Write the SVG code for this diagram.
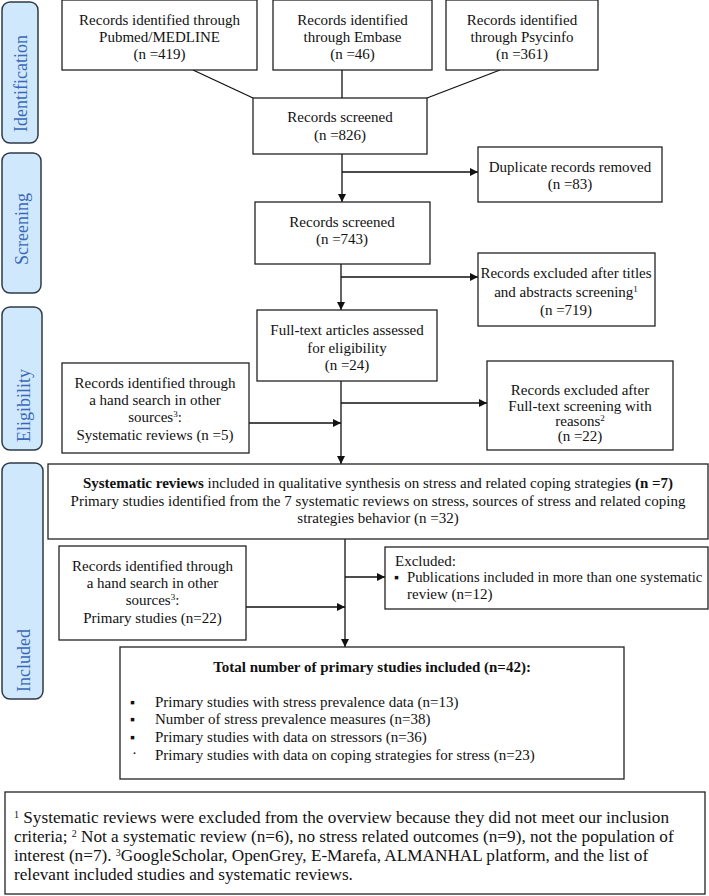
<svg xmlns="http://www.w3.org/2000/svg" width="709" height="896" viewBox="0 0 709 896">
<defs>
<style>
.box{fill:#fff;stroke:#222;stroke-width:1.3}
.side{fill:#cfe8fb;stroke:#2e3a48;stroke-width:1.5}
.t{font-family:"Liberation Serif","Times New Roman",serif;font-size:15px;fill:#111}
.f{font-size:17.2px}
.c{text-anchor:middle}
.st{font-family:"Liberation Serif","Times New Roman",serif;font-size:18px;fill:#3a68b8}
.ln{stroke:#111;stroke-width:1.3;fill:none}
.b{font-weight:bold}
</style>
<marker id="ah" viewBox="0 0 10 10" refX="10" refY="5" markerWidth="8" markerHeight="8" markerUnits="userSpaceOnUse" orient="auto">
<path d="M0,0 L10,5 L0,10 z" fill="#111"/>
</marker>
</defs>
<rect width="709" height="896" fill="#fff"/>

<g id="side-identification"><rect class="side" x="2" y="2" width="36" height="141" rx="8"/><text class="st" transform="translate(27,132) rotate(-90)">Identification</text></g>
<g id="side-screening"><rect class="side" x="2" y="153" width="39" height="140" rx="8"/><text class="st" transform="translate(28,265) rotate(-90)">Screening</text></g>
<g id="side-eligibility"><rect class="side" x="2" y="307" width="40" height="143" rx="8"/><text class="st" transform="translate(30,442) rotate(-90)">Eligibility</text></g>
<g id="side-included"><rect class="side" x="2" y="463" width="41" height="236" rx="8"/><text class="st" transform="translate(30,692) rotate(-90)">Included</text></g>

<g id="connectors">
<line class="ln" x1="193" y1="70" x2="253" y2="98"/>
<line class="ln" x1="342" y1="70" x2="342" y2="98"/>
<line class="ln" x1="500" y1="70" x2="427" y2="98"/>
<line class="ln" x1="342" y1="154" x2="342" y2="202" marker-end="url(#ah)"/>
<line class="ln" x1="342" y1="172" x2="478" y2="172" marker-end="url(#ah)"/>
<line class="ln" x1="341" y1="264" x2="341" y2="310" marker-end="url(#ah)"/>
<line class="ln" x1="341" y1="277" x2="478" y2="277" marker-end="url(#ah)"/>
<line class="ln" x1="341" y1="381" x2="341" y2="464" marker-end="url(#ah)"/>
<line class="ln" x1="341" y1="403" x2="487" y2="403" marker-end="url(#ah)"/>
<line class="ln" x1="249" y1="423" x2="341" y2="423" marker-end="url(#ah)"/>
<line class="ln" x1="345" y1="539" x2="345" y2="647" marker-end="url(#ah)"/>
<line class="ln" x1="345" y1="577" x2="385" y2="577" marker-end="url(#ah)"/>
<line class="ln" x1="246" y1="607" x2="345" y2="607" marker-end="url(#ah)"/>
</g>

<g id="pubmed"><rect class="box" x="62" y="0" width="195" height="70"/>
<text class="t c" x="159.5" y="25">Records identified through</text>
<text class="t c" x="159.5" y="42">Pubmed/MEDLINE</text>
<text class="t c" x="159.5" y="59">(n =419)</text></g>

<g id="embase"><rect class="box" x="273" y="0" width="159" height="70"/>
<text class="t c" x="352.5" y="25">Records identified</text>
<text class="t c" x="352.5" y="42">through Embase</text>
<text class="t c" x="352.5" y="59">(n =46)</text></g>

<g id="psycinfo"><rect class="box" x="446" y="0" width="152" height="70"/>
<text class="t c" x="522" y="25">Records identified</text>
<text class="t c" x="522" y="42">through Psycinfo</text>
<text class="t c" x="522" y="59">(n =361)</text></g>

<g id="screened826"><rect class="box" x="253" y="98" width="174" height="56"/>
<text class="t c" x="340" y="122">Records screened</text>
<text class="t c" x="340" y="140">(n =826)</text></g>

<g id="duplicates"><rect class="box" x="478" y="147" width="184" height="55"/>
<text class="t c" x="570" y="172">Duplicate records removed</text>
<text class="t c" x="570" y="189">(n =83)</text></g>

<g id="screened743"><rect class="box" x="255" y="202" width="175" height="62"/>
<text class="t c" x="342" y="227">Records screened</text>
<text class="t c" x="342" y="244">(n =743)</text></g>

<g id="excluded-titles"><rect class="box" x="478" y="253" width="177" height="73"/>
<text class="t c" x="566" y="278">Records excluded after titles</text>
<text class="t c" x="566" y="297">and abstracts screening<tspan style="font-size:9px" baseline-shift="super">1</tspan></text>
<text class="t c" x="566" y="315">(n =719)</text></g>

<g id="fulltext"><rect class="box" x="257" y="310" width="180" height="71"/>
<text class="t c" x="347" y="335">Full-text articles assessed</text>
<text class="t c" x="347" y="353">for eligibility</text>
<text class="t c" x="347" y="370">(n =24)</text></g>

<g id="excluded-fulltext"><rect class="box" x="487" y="361" width="186" height="89"/>
<text class="t c" x="580" y="395">Records excluded after</text>
<text class="t c" x="580" y="411">Full-text screening with</text>
<text class="t c" x="580" y="426">reasons<tspan style="font-size:9px" baseline-shift="super">2</tspan></text>
<text class="t c" x="580" y="441">(n =22)</text></g>

<g id="handsearch-sr"><rect class="box" x="62" y="363" width="187" height="90"/>
<text class="t c" x="155" y="388">Records identified through</text>
<text class="t c" x="155" y="405">a hand search in other</text>
<text class="t c" x="155" y="422">sources<tspan style="font-size:9px" baseline-shift="super">3</tspan>:</text>
<text class="t c" x="155" y="440">Systematic reviews (n =5)</text></g>

<g id="systematic-reviews"><rect class="box" x="48" y="464" width="660" height="75"/>
<text class="t c" x="378" y="488"><tspan class="b">Systematic reviews</tspan> included in qualitative synthesis on stress and related coping strategies <tspan class="b">(n =7)</tspan></text>
<text class="t c" x="378" y="506">Primary studies identified from the 7 systematic reviews on stress, sources of stress and related coping</text>
<text class="t c" x="378" y="523">strategies behavior (n =32)</text></g>

<g id="excluded-dup"><rect class="box" x="385" y="547" width="323" height="62"/>
<text class="t" x="395" y="566">Excluded:</text>
<text class="t" x="394" y="582" style="font-size:14px">▪</text>
<text class="t" x="407" y="582" style="font-size:14.7px">Publications included in more than one systematic</text>
<text class="t" x="407" y="599">review (n=12)</text></g>

<g id="handsearch-ps"><rect class="box" x="59" y="546" width="187" height="94"/>
<text class="t c" x="152.5" y="571">Records identified through</text>
<text class="t c" x="152.5" y="588">a hand search in other</text>
<text class="t c" x="152.5" y="605">sources<tspan style="font-size:9px" baseline-shift="super">3</tspan>:</text>
<text class="t c" x="152.5" y="623">Primary studies (n=22)</text></g>

<g id="total"><rect class="box" x="120" y="647" width="504" height="132"/>
<text class="t c b" x="372" y="672">Total number of primary studies included (n=42):</text>
<text class="t" x="130" y="707" style="font-size:14px">▪</text>
<text class="t" x="155" y="707">Primary studies with stress prevalence data (n=13)</text>
<text class="t" x="130" y="724" style="font-size:14px">▪</text>
<text class="t" x="155" y="724">Number of stress prevalence measures (n=38)</text>
<text class="t" x="130" y="742" style="font-size:14px">▪</text>
<text class="t" x="155" y="742">Primary studies with data on stressors (n=36)</text>
<text class="t" x="132" y="758">·</text>
<text class="t" x="155" y="760">Primary studies with data on coping strategies for stress (n=23)</text></g>

<g id="footnote"><rect class="box" x="5" y="792" width="700" height="102"/>
<text class="t f" x="14" y="823"><tspan style="font-size:10px" baseline-shift="super">1</tspan> Systematic reviews were excluded from the overview because they did not meet our inclusion</text>
<text class="t f" x="14" y="842">criteria; <tspan style="font-size:10px" baseline-shift="super">2</tspan> Not a systematic review (n=6), no stress related outcomes (n=9), not the population of</text>
<text class="t f" x="14" y="861">interest (n=7). <tspan style="font-size:10px" baseline-shift="super">3</tspan>GoogleScholar, OpenGrey, E-Marefa, ALMANHAL platform, and the list of</text>
<text class="t f" x="14" y="880">relevant included studies and systematic reviews.</text></g>
</svg>
